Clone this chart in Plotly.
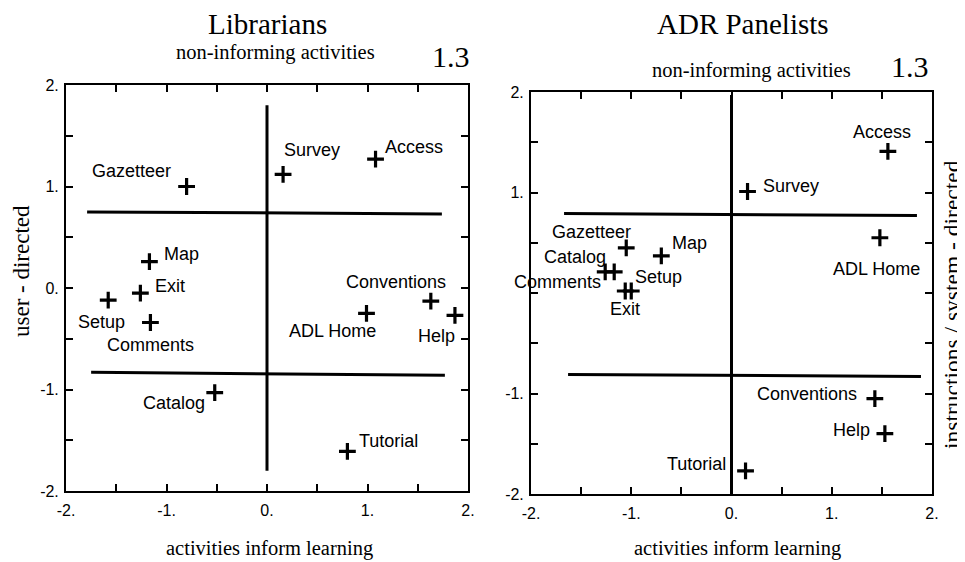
import plotly.graph_objects as go

# ---------------- data ----------------
lib_names = ["Gazetteer", "Survey", "Access", "Map", "Exit", "Setup", "Comments",
             "ADL Home", "Conventions", "Help", "Catalog", "Tutorial"]
lib_x = [-0.80, 0.16, 1.08, -1.17, -1.26, -1.58, -1.16, 0.99, 1.63, 1.87, -0.52, 0.80]
lib_y = [1.00, 1.12, 1.27, 0.26, -0.05, -0.12, -0.34, -0.25, -0.13, -0.27, -1.03, -1.61]

adr_names = ["Access", "Survey", "ADL Home", "Gazetteer", "Map", "Catalog", "Comments",
             "Setup", "Exit", "Conventions", "Help", "Tutorial"]
adr_x = [1.56, 0.16, 1.48, -1.05, -0.70, -1.17, -1.26, -1.00, -1.06, 1.43, 1.53, 0.14]
adr_y = [1.41, 1.01, 0.55, 0.45, 0.37, 0.21, 0.21, 0.02, 0.02, -1.05, -1.40, -1.77]

# quadrant divider lines (x pairs, y pairs)
lib_vline_x = [0.0, 0.0];   lib_vline_y = [1.80, -1.80]
lib_hline1_x = [-1.79, 1.74]; lib_hline1_y = [0.75, 0.73]
lib_hline2_x = [-1.75, 1.77]; lib_hline2_y = [-0.83, -0.86]

adr_vline_x = [0.0, 0.0];   adr_vline_y = [1.97, -2.0]
adr_hline1_x = [-1.67, 1.85]; adr_hline1_y = [0.79, 0.77]
adr_hline2_x = [-1.63, 1.89]; adr_hline2_y = [-0.81, -0.83]

tick_vals = [-2, -1.5, -1, -0.5, 0, 0.5, 1, 1.5, 2]
tick_text = ["-2.", "", "-1.", "", "0.", "", "1.", "", "2."]
# in the ADR panel the "0." on the y axis is hidden behind the "Comments" label
adr_y_tick_text = ["-2.", "", "-1.", "", "", "", "1.", "", "2."]

panel_titles = ["Librarians", "ADR Panelists"]
top_label = "non-informing activities"
corner_value = "1.3"
x_title = "activities inform learning"
left_y_title = "user - directed"
right_y_title = "instructions / system - directed"

# ---------------- label placement (pixel offsets) ----------------
# (xanchor, xshift, yshift)
lib_label_pos = {
    "Gazetteer": ("right", -14, 16), "Survey": ("left", -1, 24), "Access": ("left", 7, 12),
    "Map": ("left", 13, 8), "Exit": ("left", 13, 7), "Setup": ("center", -7, -22),
    "Comments": ("center", 0, -22), "ADL Home": ("center", -34, -18),
    "Conventions": ("center", -35, 19), "Help": ("center", -18, -21),
    "Catalog": ("right", -8, -10), "Tutorial": ("left", 10, 10),
}
adr_label_pos = {
    "Access": ("center", -6, 19), "Survey": ("left", 13, 5), "ADL Home": ("center", -3, -31),
    "Gazetteer": ("center", -35, 16), "Map": ("left", 9, 13), "Catalog": ("center", -39, 15),
    "Comments": ("right", -2, -10), "Setup": ("left", 2, 14), "Exit": ("center", 0, -18),
    "Conventions": ("right", -16, 5), "Help": ("right", -13, 4), "Tutorial": ("right", -18, 7),
}

# page body has an 8px margin: build the figure in page coordinates shifted by it
OFF = 8
W, H = 965 - OFF, 562 - OFF
SANS = "Liberation Sans, Arial, sans-serif"
SERIF = "Liberation Serif, Times New Roman, serif"

fig = go.Figure()

def add_panel(xs, ys, names, lines, xa, ya, positions):
    for lx, ly in lines:
        fig.add_trace(go.Scatter(x=lx, y=ly, mode="lines", xaxis=xa, yaxis=ya,
                                 line=dict(color="black", width=3), hoverinfo="skip",
                                 showlegend=False))
    fig.add_trace(go.Scatter(x=xs, y=ys, mode="markers", xaxis=xa, yaxis=ya, text=names,
                             marker=dict(symbol="cross-thin", size=12,
                                         line=dict(color="black", width=3.2)),
                             showlegend=False))
    for n, x, y in zip(names, xs, ys):
        anc, dx, dy = positions[n]
        fig.add_annotation(x=x, y=y, xref=xa, yref=ya, text=n, showarrow=False,
                           xanchor=anc, yanchor="middle", xshift=dx, yshift=dy,
                           font=dict(family=SANS, size=18, color="black"))

add_panel(lib_x, lib_y, lib_names,
          [(lib_vline_x, lib_vline_y), (lib_hline1_x, lib_hline1_y), (lib_hline2_x, lib_hline2_y)],
          "x", "y", lib_label_pos)
add_panel(adr_x, adr_y, adr_names,
          [(adr_vline_x, adr_vline_y), (adr_hline1_x, adr_hline1_y), (adr_hline2_x, adr_hline2_y)],
          "x2", "y2", adr_label_pos)

axis_common = dict(range=[-2, 2], tickmode="array", tickvals=tick_vals,
                   ticks="inside", ticklen=7, tickwidth=1.5, tickcolor="black",
                   showline=True, linecolor="black", linewidth=2, mirror="ticks",
                   showgrid=False, zeroline=False, fixedrange=True, automargin=False,
                   tickfont=dict(family=SANS, size=16, color="black"))

def px2x(p):
    return (p - OFF) / W

def px2y(p):
    return 1 - (p - OFF) / H

fig.update_layout(
    width=W, height=H, margin=dict(l=0, r=0, t=0, b=0, pad=0, autoexpand=False),
    paper_bgcolor="white", plot_bgcolor="white",
    xaxis=dict(domain=[px2x(66), px2x(468)], anchor="y", ticklabelstandoff=4,
               ticktext=tick_text, **axis_common),
    yaxis=dict(domain=[px2y(491), px2y(85)], anchor="x", ticklabelstandoff=2,
               ticktext=tick_text, **axis_common),
    xaxis2=dict(domain=[px2x(531), px2x(932)], anchor="y2", ticklabelstandoff=4,
                ticktext=tick_text, **axis_common),
    yaxis2=dict(domain=[px2y(494), px2y(92)], anchor="x2", ticklabelstandoff=2,
                ticktext=adr_y_tick_text, **axis_common),
)

def paper_text(text, xp, yp, size, angle=0, family=SERIF):
    fig.add_annotation(x=px2x(xp), y=px2y(yp), xref="paper", yref="paper", text=text,
                       showarrow=False, xanchor="center", yanchor="middle", textangle=angle,
                       font=dict(family=family, size=size, color="black"))

paper_text(panel_titles[0], 267, 24, 29)
paper_text(panel_titles[1], 743, 24, 29)
paper_text(top_label, 275, 52, 20.5)
paper_text(top_label, 751, 70, 20.5)
paper_text(corner_value, 451, 56, 30)
paper_text(corner_value, 910, 67, 30)
paper_text(x_title, 269, 548, 20.5)
paper_text(x_title, 737, 548, 20.5)
paper_text(left_y_title, 21, 271, 23, angle=-90)
paper_text(right_y_title, 952, 305, 23.5, angle=-90)

fig.write_html("out.html")
